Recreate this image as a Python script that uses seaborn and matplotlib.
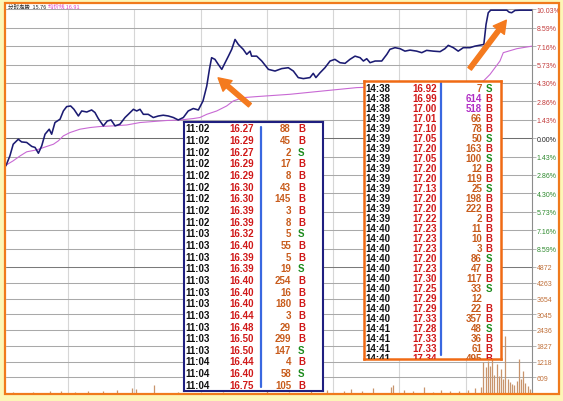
import numpy as np
import pandas as pd
import matplotlib
matplotlib.use("Agg")
import matplotlib.pyplot as plt
import seaborn as sns
from matplotlib.patches import Rectangle, FancyArrowPatch

# ---------------- data ----------------
price_min = [1.9, 3.7, 5.2, 7.5, 9.0, 11.3, 13.6, 15.1, 16.6, 18.1, 19.6, 21.5, 22.6, 24.1, 26.4,
             27.9, 29.4, 31.2, 32.7, 34.7, 36.2, 38.5, 40.7, 42.2, 43.7, 46.0, 47.8, 49.5, 51.3,
             53.5, 55.8, 57.3, 59.6, 61.1, 62.6, 64.1, 66.3, 68.6, 70.9, 73.1, 75.4, 77.7, 79.9,
             82.2, 84.4, 86.7, 89.0, 91.1, 92.8, 94.0, 95.0, 96.5, 98.0, 99.6, 101.1, 102.6,
             104.1, 105.6, 107.1, 109.3, 110.9, 112.4, 113.1, 115.4, 117.7, 120.7, 123.7, 126.7,
             129.7, 132.0, 134.2, 136.5, 139.5, 141.0, 142.2, 144.1, 146.3, 148.6, 150.8, 153.1,
             155.4, 157.6, 159.9, 162.2, 163.7, 165.2, 166.7, 169.0, 172.0, 174.3, 175.7, 178.0,
             180.3, 182.5, 184.8, 187.8, 190.1, 192.3, 195.3, 198.4, 200.6, 202.1, 204.4, 206.6,
             208.9, 211.9, 214.2, 218.2, 219.2, 220.2, 221.3, 228.6, 229.7, 230.8, 232.3, 234.6,
             240.0]
price_pct = [-2.15, -1.38, -0.47, -0.08, -0.29, -0.33, -0.64, -0.72, -1.17, -0.60, 0.31, 0.70,
             0.31, 1.22, 1.48, 2.12, 2.46, 2.51, 2.25, 1.73, 2.12, 2.04, 2.20, 2.00, 1.53, 0.96,
             1.34, 1.42, 0.96, 1.09, 1.61, 1.86, 2.25, 2.12, 2.25, 1.86, 1.86, 1.61, 1.73, 1.79,
             1.73, 1.61, 1.42, 1.61, 2.12, 2.31, 2.20, 2.90, 4.06, 5.36, 6.27, 6.14, 5.75, 5.36,
             5.88, 6.39, 6.92, 7.69, 7.30, 6.92, 6.53, 6.78, 6.39, 6.39, 6.01, 5.36, 5.23, 5.42,
             5.49, 5.23, 4.72, 4.64, 4.72, 5.05, 4.72, 5.10, 5.49, 6.01, 6.14, 5.88, 5.83, 6.14,
             6.39, 6.27, 6.01, 6.19, 5.88, 6.01, 6.01, 6.53, 6.92, 7.05, 6.97, 6.78, 6.86, 6.78,
             6.66, 6.84, 6.78, 6.74, 6.97, 7.23, 7.05, 6.78, 7.05, 7.05, 7.17, 7.30, 8.86, 9.77,
             9.97, 9.97, 9.81, 9.77, 9.95, 9.97, 9.97]

avg_min = [1.9, 5.2, 8.3, 11.3, 15.8, 20.4, 23.4, 25.6, 27.9, 30.9, 35.4, 40.0, 44.5, 50.5, 56.6,
           62.6, 68.6, 74.7, 80.7, 86.7, 89.7, 92.8, 97.3, 101.8, 104.8, 109.3, 115.4, 130.5,
           145.5, 160.7, 194.6, 214.2, 218.0, 221.0, 225.5, 227.0, 233.1, 240.0]
avg_pct = [-2.10, -1.76, -1.38, -1.06, -0.91, -0.64, -0.47, -0.21, 0.18, 0.44, 0.70, 0.83, 0.91,
           0.96, 1.03, 1.22, 1.30, 1.38, 1.42, 1.53, 1.61, 1.86, 2.12, 2.51, 2.90, 3.16, 3.24,
           3.42, 3.68, 3.94, 4.12, 4.27, 4.45, 4.97, 6.01, 6.66, 6.97, 7.17]

vol_min = [5, 14, 22, 27, 33, 39, 46, 52, 59, 61, 69, 80, 100, 120, 130, 140, 147, 155, 158, 163,
           168, 176, 177, 182, 186, 191, 195, 199, 203, 207, 211, 214, 217, 218, 219, 220, 221,
           222, 223, 224, 225, 226, 227, 228, 229, 230, 231, 232, 233, 234, 235, 236, 237, 238, 239]
vol_val = [40, 40, 80, 80, 40, 60, 80, 115, 190, 155, 300, 40, 40, 60, 40, 60, 115, 80, 155, 80,
           190, 230, 300, 115, 60, 230, 40, 115, 60, 80, 115, 190, 230, 1200, 1006, 1238, 1045,
           1393, 700, 1122, 658, 929, 542, 2206, 542, 426, 348, 300, 464, 1316, 542, 851, 400,
           271, 155]

pct_ticks = [10.03, 8.59, 7.16, 5.73, 4.30, 2.86, 1.43, 0.00,
             -1.43, -2.86, -4.30, -5.73, -7.16, -8.59]
pct_bottom = -10.03
vol_ticks = [4872, 4263, 3654, 3045, 2436, 1827, 1218, 609]
time_grid = [30, 60, 90, 120, 150, 180, 210]

t1_time = ["11:02"] * 9 + ["11:03"] * 11 + ["11:04"] * 3
t1_price = [16.27, 16.29, 16.27, 16.29, 16.29, 16.30, 16.30, 16.39, 16.39,
            16.32, 16.40, 16.39, 16.39, 16.40, 16.40, 16.40, 16.44, 16.48, 16.50, 16.50,
            16.44, 16.40, 16.75]
t1_vol = [88, 45, 2, 17, 8, 43, 145, 3, 8, 5, 55, 5, 19, 254, 16, 180, 3, 29, 299, 147, 4, 58, 105]
t1_side = list("BBSBBBBBB" + "SBBSBBBBBBS" + "BSB")

t2_time = ["14:38"] * 3 + ["14:39"] * 11 + ["14:40"] * 10 + ["14:41"] * 4
t2_price = [16.92, 16.99, 17.00, 17.01, 17.10, 17.05, 17.20, 17.05, 17.20, 17.20, 17.13, 17.20,
            17.20, 17.22, 17.23, 17.23, 17.23, 17.20, 17.23, 17.30, 17.25, 17.29, 17.29, 17.33,
            17.28, 17.33, 17.33, 17.34]
t2_vol = [7, 614, 518, 66, 78, 50, 163, 100, 12, 119, 25, 198, 222, 2, 11, 10, 3, 86, 47, 117,
          33, 12, 22, 357, 48, 36, 61, 495]
t2_side = ["S", "B", "B", "B", "B", "S", "B", "S", "B", "B", "S", "B", "B", "B", "B", "B", "B",
           "S", "B", "B", "S", "", "B", "B", "S", "B", "B", "B"]

header_black = "分时走势  15.76"
header_magenta = "均价线 16.91"

# ---------------- style ----------------
sns.set_style("white")
plt.rcParams["font.family"] = ["Liberation Sans", "DejaVu Sans"]

W, H = 563, 402
X0, X1 = 1.94, 240.0
fig = plt.figure(figsize=(W / 100, H / 100), dpi=100)
fig.patch.set_facecolor("#fdf6b6")


def fr(x0, y0, x1, y1):
    return [x0 / W, 1 - y1 / H, (x1 - x0) / W, (y1 - y0) / H]


fig.add_artist(Rectangle((5 / W, 1 - 395 / H), 554 / W, 391 / H, facecolor="white",
                         edgecolor="none", zorder=-5))

GRID_H = "#a9a9a9"
GRID_V = "#d6d6d6"
POS_C = "#c23a3a"
NEG_C = "#2f8a2f"
VOL_C = "#c0703a"

# ---------------- price panel ----------------
ax_p = fig.add_axes(fr(6, 10.4, 532, 268))
ax_p.set_facecolor("none")
ax_p.set_xlim(X0, X1)
ax_p.set_ylim(pct_bottom, pct_ticks[0])
for v in pct_ticks + [pct_bottom]:
    ax_p.axhline(v, color="#6f6f6f" if v == 0 else GRID_H, lw=0.75, zorder=0.5)
for t in time_grid:
    ax_p.axvline(t, color=GRID_V, lw=0.8, zorder=0.4)

sns.lineplot(x=avg_min, y=avg_pct, ax=ax_p, color="#c869d4", lw=0.8,
             estimator=None, sort=False, zorder=3)
sns.lineplot(x=price_min, y=price_pct, ax=ax_p, color="#1b1b72", lw=1.15,
             estimator=None, sort=False, zorder=4)

ax_p.set_xlabel("")
ax_p.set_ylabel("")
ax_p.set_xticks([])
ax_p.yaxis.tick_right()
ax_p.set_yticks(pct_ticks)
ax_p.set_yticklabels([f"{abs(v):.2f}%" for v in pct_ticks])
ax_p.tick_params(axis="y", length=3, width=0.6, color=GRID_H, pad=0.5, labelsize=5)
for lab, v in zip(ax_p.get_yticklabels(), pct_ticks):
    lab.set_color(POS_C if v > 0 else (NEG_C if v < 0 else "#222222"))
for name, sp in ax_p.spines.items():
    sp.set_visible(name == "right")
ax_p.spines["right"].set_color("#8c8c8c")
ax_p.spines["right"].set_linewidth(0.8)

# ---------------- volume panel ----------------
ax_v = fig.add_axes(fr(6, 268, 532, 394))
ax_v.set_facecolor("none")
ax_v.set_xlim(X0, X1)
ax_v.set_ylim(0, vol_ticks[0])
for v in vol_ticks:
    ax_v.axhline(v, color="#7a7a7a" if v == vol_ticks[0] else GRID_H, lw=0.75, zorder=0.5)
for t in time_grid:
    ax_v.axvline(t, color=GRID_V, lw=0.8, zorder=0.4)
ax_v.vlines(vol_min, 0, vol_val, color="#c8946c", lw=0.9, zorder=3)
ax_v.set_xticks([])
ax_v.yaxis.tick_right()
ax_v.set_yticks(vol_ticks)
ax_v.set_yticklabels([str(v) for v in vol_ticks])
ax_v.tick_params(axis="y", length=3, width=0.6, color=GRID_H, pad=0.5, labelsize=5,
                 labelcolor=VOL_C)
for name, sp in ax_v.spines.items():
    sp.set_visible(name == "right")
ax_v.spines["right"].set_color("#8c8c8c")
ax_v.spines["right"].set_linewidth(0.8)

# ---------------- trade tables ----------------
TXT_FONT = dict(fontsize=7, fontweight="bold", family=["Liberation Sans", "DejaVu Sans"])


def add_table(box, edge, elw, times, prices, vols, sides, first_y, step,
              x_time, x_price, x_vol, x_side, sep):
    x0, y0, x1, y1 = box
    ax = fig.add_axes(fr(x0, y0, x1, y1))
    ax.set_xlim(x0, x1)
    ax.set_ylim(y1, y0)
    ax.set_facecolor("white")
    ax.set_xticks([])
    ax.set_yticks([])
    for sp in ax.spines.values():
        sp.set_color(edge)
        sp.set_linewidth(elw)
    ax.plot([sep[0], sep[0]], [sep[1], sep[2]], color="#3a68e0", lw=1.6)
    for i, (tm, pr, vo, sd) in enumerate(zip(times, prices, vols, sides)):
        y = first_y + i * step
        ax.text(x_time, y, tm, ha="left", va="center", color="#111111", clip_on=True, **TXT_FONT)
        ax.text(x_price, y, f"{pr:.2f}", ha="right", va="center", color="#d01818",
                clip_on=True, **TXT_FONT)
        ax.text(x_vol, y, str(vo), ha="right", va="center",
                color="#b02cc4" if vo >= 500 else "#c85c1c", clip_on=True, **TXT_FONT)
        if sd:
            ax.text(x_side, y, sd, ha="left", va="center",
                    color="#d01818" if sd == "B" else "#1c8a1c", clip_on=True, **TXT_FONT)
    return ax


add_table((184, 123, 323, 392), "#1f1f80", 1.5, t1_time, t1_price, t1_vol, t1_side,
          129.5, 11.65, 185, 254, 291, 298, (261, 128, 388))
add_table((364, 82, 501, 360), "#f06a14", 1.8, t2_time, t2_price, t2_vol, t2_side,
          89.5, 10.0, 365.5, 437, 482, 485.5, (441, 84, 356))

# ---------------- arrows ----------------
for (tx, ty), (hx, hy) in [((252, 108), (216, 77)), ((468, 72), (508, 19))]:
    arr = FancyArrowPatch((tx / W, 1 - ty / H), (hx / W, 1 - hy / H),
                          arrowstyle="simple,head_length=0.9,head_width=1.0,tail_width=0.32",
                          mutation_scale=10, color="#f47a1e", zorder=15)
    fig.add_artist(arr)

# ---------------- header + frame ----------------
fig.text(8 / W, 1 - 7.5 / H, header_black, fontsize=4, color="#222222", va="center",
         family=["Noto Sans CJK SC", "DejaVu Sans"])
fig.text(48 / W, 1 - 7.5 / H, header_magenta, fontsize=4, color="#e040c0", va="center",
         family=["Noto Sans CJK SC", "DejaVu Sans"])
fig.add_artist(Rectangle((5 / W, 1 - 395 / H), 554 / W, 391 / H, facecolor="none",
                         edgecolor="#f07a1c", lw=1.6, zorder=20))

fig.savefig("out.png", dpi=100, facecolor=fig.get_facecolor())
